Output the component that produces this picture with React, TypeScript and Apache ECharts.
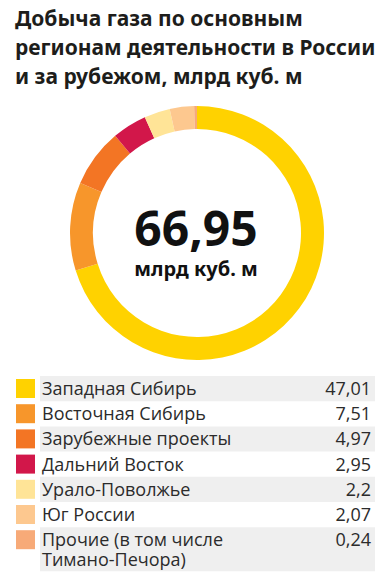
import React, { useEffect, useRef } from "react";
import * as echarts from "echarts";

const titleLines = [
  "Добыча газа по основным",
  "регионам деятельности в России",
  "и за рубежом, млрд куб. м",
];
const categories = [
  "Западная Сибирь",
  "Восточная Сибирь",
  "Зарубежные проекты",
  "Дальний Восток",
  "Урало-Поволжье",
  "Юг России",
  "Прочие (в том числе\nТимано-Печора)",
];
const values = [47.01, 7.51, 4.97, 2.95, 2.2, 2.07, 0.24];
const valueLabels = ["47,01", "7,51", "4,97", "2,95", "2,2", "2,07", "0,24"];
const colors = ["#ffd200", "#f7962b", "#f37524", "#d2174a", "#ffe497", "#fdc88f", "#f7aa78"];
const totalLabel = "66,95";
const unitLabel = "млрд куб. м";

export default function App() {
  const ref = useRef<HTMLDivElement>(null);
  useEffect(() => {
    document.body.style.margin = "0";
    const chart = echarts.init(ref.current!, null, { renderer: "svg" });
    const font = "'Open Sans', sans-serif";
    const titleFont = "'Noto Sans', sans-serif";
    const graphics: any[] = [];
    titleLines.forEach((t, i) => {
      graphics.push({
        type: "text",
        x: 15,
        y: 18 + i * 29,
        style: {
          text: t,
          font: `bold 21px ${titleFont}`,
          fill: "#1d1d1b",
          verticalAlign: "middle",
        },
      });
    });
    graphics.push({
      type: "text",
      x: 196,
      y: 227,
      style: {
        text: totalLabel,
        font: `bold 48px ${titleFont}`,
        lineHeight: 44,
        fill: "#111",
        align: "center",
        verticalAlign: "middle",
      },
    });
    graphics.push({
      type: "text",
      x: 196,
      y: 268,
      style: {
        text: unitLabel,
        font: `bold 20px ${titleFont}`,
        lineHeight: 20,
        fill: "#111",
        align: "center",
        verticalAlign: "middle",
      },
    });
    const rowH = 25.2;
    const top0 = 376;
    categories.forEach((c, i) => {
      const y = top0 + i * rowH;
      const last = i === categories.length - 1;
      const h = last ? 44 : rowH;
      if (i % 2 === 0) {
        graphics.push({
          type: "rect",
          shape: { x: 40, y, width: 335, height: h },
          style: { fill: "#efefef" },
        });
      }
      graphics.push({
        type: "rect",
        shape: { x: 16, y: y + 3, width: 19, height: 19 },
        style: { fill: colors[i] },
      });
      graphics.push({
        type: "text",
        x: 42,
        y: y + 2,
        style: {
          text: c,
          font: `18px ${font}`,
          lineHeight: 20,
          fill: "#2b2b2b",
          verticalAlign: "top",
        },
      });
      graphics.push({
        type: "text",
        x: 371,
        y: y + 2,
        style: {
          text: valueLabels[i],
          font: `18px ${font}`,
          lineHeight: 20,
          fill: "#2b2b2b",
          align: "right",
          verticalAlign: "top",
        },
      });
    });

    chart.setOption({
      animation: false,
      series: [
        {
          type: "pie",
          center: [197, 233],
          radius: [104, 127],
          startAngle: 90,
          clockwise: true,
          silent: true,
          label: { show: false },
          labelLine: { show: false },
          itemStyle: { borderWidth: 0 },
          data: categories.map((c, i) => ({
            name: c,
            value: values[i],
            itemStyle: { color: colors[i] },
          })),
        },
      ],
      graphic: graphics,
    });
    return () => chart.dispose();
  }, []);
  return <div ref={ref} style={{ width: 390, height: 576 }} />;
}
